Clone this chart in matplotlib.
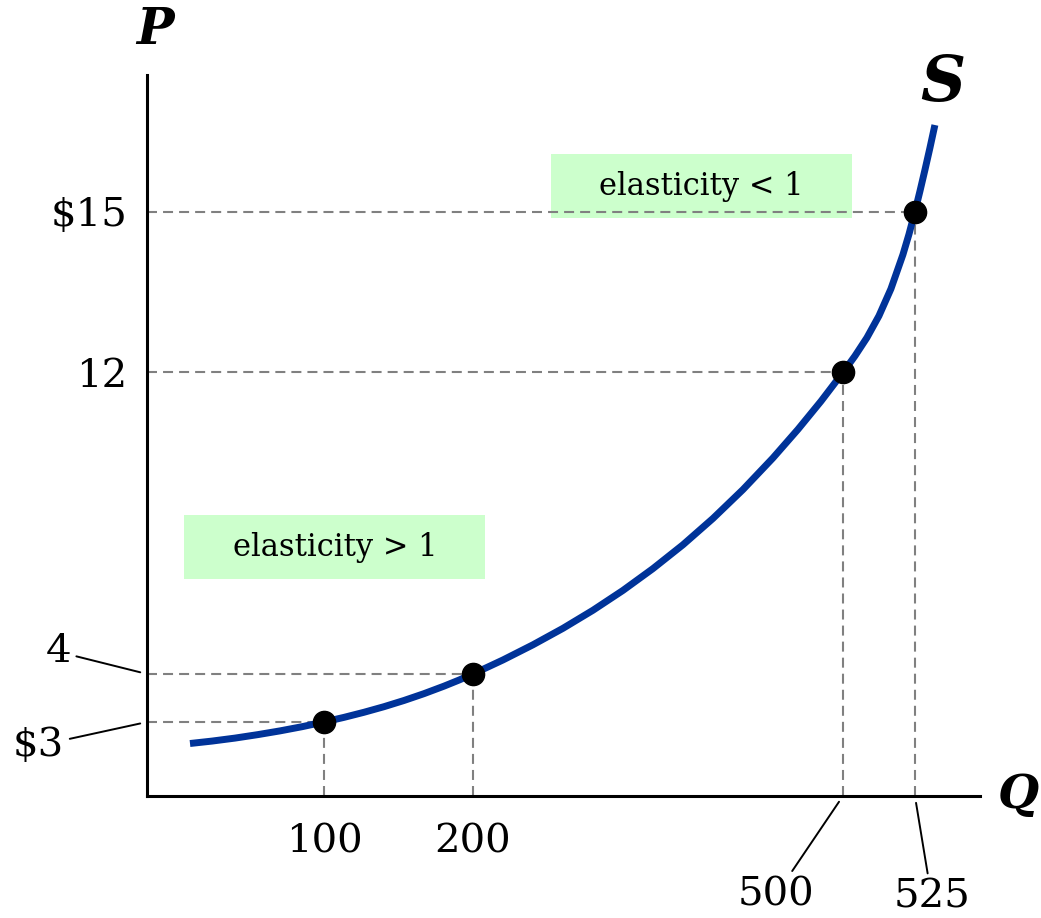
import numpy as np
import matplotlib
matplotlib.use('Agg')
import matplotlib.pyplot as plt
from matplotlib.patches import Rectangle

# points on the supply curve
quantity = [100, 200, 500, 525]
price = [3, 4, 12, 15]

# supply curve (Q, P)
curve_q = [24.3, 36.7, 49.7, 62.7, 75.1, 87.6, 100,
           113.4, 126.8, 140.3, 153.7, 167.1, 180.5, 190.6, 200,
           224.3, 248.6, 273.0, 297.3, 321.6, 345.9, 370.3, 394.6, 418.9, 443.2, 463.5, 482.2, 500,
           504.17, 508.33, 512.5, 516.67, 520.83, 522.92, 525,
           526.74, 528.47, 530.21, 531.94]
curve_p = [2.128, 2.226, 2.347, 2.489, 2.639, 2.809, 3,
           3.096, 3.202, 3.319, 3.448, 3.590, 3.746, 3.873, 4,
           4.372, 4.774, 5.212, 5.691, 6.217, 6.795, 7.429, 8.127, 8.892, 9.730, 10.489, 11.237, 12,
           12.308, 12.649, 13.055, 13.560, 14.198, 14.576, 15,
           15.381, 15.777, 16.189, 16.617]

# schematic (non-linear) axes: value -> drawing position
x_knots = [0, 100, 200, 500, 525, 600]
x_pos = [0, 177, 326, 696, 768, 984]
y_knots = [0, 3, 4, 12, 15, 20]
y_pos = [0, 74, 122, 423.5, 584.3, 852.3]


def fwd_x(v):
    return np.interp(v, x_knots, x_pos)


def inv_x(p):
    return np.interp(p, x_pos, x_knots)


def fwd_y(v):
    return np.interp(v, y_knots, y_pos)


def inv_y(p):
    return np.interp(p, y_pos, y_knots)


plt.rcParams['font.family'] = ['DejaVu Serif']

fig = plt.figure(figsize=(10.41, 9.18), dpi=100)
ax = fig.add_axes([0.1412, 0.1329, 0.8002, 0.7854])
ax.set_xscale('function', functions=(fwd_x, inv_x))
ax.set_yscale('function', functions=(fwd_y, inv_y))
ax.set_xlim(0, 547.6)
ax.set_ylim(0, 17.55)

for side in ['top', 'right']:
    ax.spines[side].set_visible(False)
for side in ['left', 'bottom']:
    ax.spines[side].set_linewidth(2.2)

# dashed guide lines
dash = dict(color='#808080', linewidth=1.5, linestyle=(0, (4.8, 2.9)), zorder=1)
for q, p in zip(quantity, price):
    ax.plot([0, q], [p, p], **dash)
    ax.plot([q, q], [0, p], **dash)

ax.plot(curve_q, curve_p, color='#003399', linewidth=5, solid_capstyle='butt',
        solid_joinstyle='round', zorder=2)
ax.plot(quantity, price, 'o', color='black', markersize=16, zorder=3)

# tick labels
ax.set_xticks([100, 200], ['100', '200'])
ax.set_yticks([12, 15], ['12', '$15'])
ax.tick_params(axis='x', length=0, pad=20, labelsize=29)
ax.tick_params(axis='y', length=0, pad=14, labelsize=29)
ax.xaxis.set_minor_locator(plt.NullLocator())
ax.yaxis.set_minor_locator(plt.NullLocator())

# labels with leader lines
lead = dict(arrowstyle='-', color='black', lw=1.4, shrinkA=2, shrinkB=5)
ax.annotate('4', xy=(0, 4), xytext=(-64, 16), textcoords='offset points',
            fontsize=29, ha='center', va='center', arrowprops=lead, annotation_clip=False)
ax.annotate('$3', xy=(0, 3), xytext=(-78, -17), textcoords='offset points',
            fontsize=29, ha='center', va='center', arrowprops=lead, annotation_clip=False)
ax.annotate('500', xy=(500, 0), xytext=(-48, -71), textcoords='offset points',
            fontsize=29, ha='center', va='center', arrowprops=lead, annotation_clip=False)
ax.annotate('525', xy=(525, 0), xytext=(12, -73), textcoords='offset points',
            fontsize=29, ha='center', va='center', arrowprops=lead, annotation_clip=False)

# elasticity boxes
ax.add_patch(Rectangle((0.485, 0.802), 0.361, 0.0888, transform=ax.transAxes,
                       facecolor='#ccffcc', edgecolor='none', zorder=0.5))
ax.text(0.666, 0.846, 'elasticity < 1', transform=ax.transAxes, fontsize=22,
        ha='center', va='center')
ax.add_patch(Rectangle((0.0444, 0.301), 0.361, 0.0888, transform=ax.transAxes,
                       facecolor='#ccffcc', edgecolor='none', zorder=0.5))
ax.text(0.2257, 0.345, 'elasticity > 1', transform=ax.transAxes, fontsize=22,
        ha='center', va='center')

# axis letters
fig.text(155 / 1041, 1 - 31 / 918, 'P', fontsize=36, fontweight='bold', style='italic',
         ha='center', va='center')
fig.text(943 / 1041, 1 - 84 / 918, 'S', fontsize=45, fontweight='bold', style='italic',
         ha='center', va='center')
fig.text(1039 / 1041, 1 - 795 / 918, 'Q', fontsize=34, fontweight='bold', style='italic',
         ha='right', va='center')

fig.savefig('out.png', dpi=100)
